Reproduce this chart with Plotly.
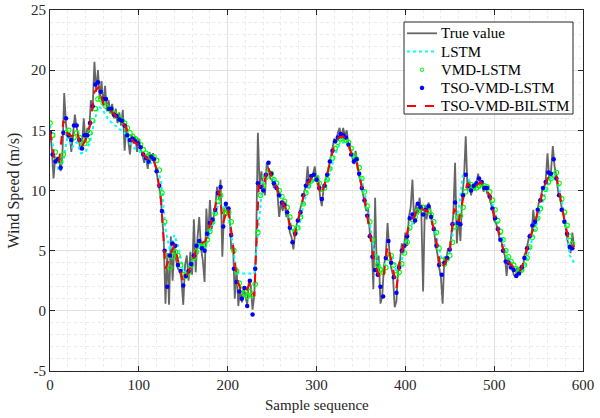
import plotly.graph_objects as go

# True wind speed, one value every 2 samples (sample 0, 2, 4, ...)
true_value = [
    15.0, 13.5, 11.0, 12.8, 12.4, 12.8, 11.6, 13.0, 18.1, 15.5,
    14.3, 14.8, 13.2, 15.0, 16.3, 15.2, 14.6, 13.4, 13.7, 16.0,
    14.0, 15.2, 14.8, 17.5, 16.8, 20.7, 18.2, 20.0, 17.6, 19.1,
    17.0, 18.7, 16.6, 17.5, 16.4, 17.2, 16.0, 16.8, 15.6, 16.5,
    15.4, 16.7, 13.3, 15.4, 14.1, 13.0, 14.6, 13.9, 14.5, 13.2,
    14.3, 13.4, 13.0, 12.3, 12.9, 11.8, 13.2, 12.5, 13.1, 12.3,
    11.7, 10.8, 9.8, 8.1, 6.0, 0.6, 4.8, 0.5, 6.2, 2.5,
    5.4, 4.2, 3.5, 3.4, 2.6, 0.5, 3.8, 4.6, 2.5, 4.9,
    3.0, 7.6, 3.2, 6.0, 7.8, 5.2, 4.2, 2.4, 8.5, 6.0,
    9.2, 6.8, 7.6, 8.6, 10.3, 9.3, 10.9, 4.5, 8.4, 9.0,
    8.0, 8.4, 5.1, 5.6, 1.0, 3.6, 0.4, 1.8, 0.7, 2.0,
    1.2, 0.5, 2.6, 2.1, 0.1, 1.3, 5.5, 14.8, 10.4, 11.6,
    10.2, 9.6, 12.3, 11.8, 11.0, 10.9, 10.2, 10.5, 9.8, 7.8,
    9.0, 8.3, 9.1, 7.8, 8.0, 6.5, 6.1, 5.1, 6.5, 7.3,
    7.6, 8.6, 9.0, 9.9, 10.3, 12.0, 10.2, 11.0, 11.3, 12.0,
    10.8, 11.2, 9.5, 8.7, 10.2, 10.9, 11.4, 12.0, 12.8, 13.5,
    14.3, 14.0, 14.8, 15.2, 14.3, 15.2, 14.5, 15.0, 13.8, 13.5,
    12.8, 12.2, 13.3, 12.0, 11.2, 10.6, 9.8, 9.3, 8.3, 8.5,
    6.5, 6.0, 1.8, 9.4, 3.0, 4.6, 0.6, 1.2, 3.8, 4.6,
    7.3, 5.0, 3.6, 3.0, 0.3, 0.8, 3.8, 4.2, 5.6, 4.8,
    6.5, 5.4, 7.8, 8.6, 10.9, 7.2, 8.8, 8.0, 9.4, 8.2,
    1.6, 8.8, 7.6, 9.0, 8.6, 7.2, 7.0, 5.5, 4.8, 3.6,
    2.8, 0.6, 4.5, 4.2, 5.2, 5.0, 6.8, 8.0, 12.3, 5.6,
    8.0, 5.8, 9.5, 11.0, 14.5, 10.0, 10.8, 9.6, 10.4, 10.0,
    10.7, 11.4, 10.4, 10.8, 9.9, 10.4, 9.8, 9.5, 9.0, 8.5,
    7.5, 7.3, 6.8, 6.0, 5.8, 5.0, 4.6, 2.9, 4.4, 3.8,
    3.7, 3.0, 2.8, 3.6, 3.0, 3.8, 3.3, 4.6, 5.0, 5.6,
    6.4, 6.2, 8.4, 7.0, 8.2, 8.9, 9.3, 10.0, 10.2, 10.8,
    13.1, 11.0, 11.6, 13.7, 12.0, 11.2, 9.9, 9.4, 8.6, 7.9,
    7.2, 6.0, 5.5, 4.8, 6.5, 5.3,
]

# Line predictions, one value every 5 samples (sample 0, 5, 10, ...)
lstm = [
    15.4, 13.0, 11.6, 12.5, 14.6, 13.6, 14.0, 13.1, 13.2, 14.0,
    15.8, 17.0, 16.6, 16.0, 15.6, 15.3, 15.0, 14.7, 14.0, 13.5,
    13.3, 12.9, 12.2, 12.3, 12.0, 10.8, 6.8, 5.0, 6.3, 5.2,
    3.2, 3.3, 4.1, 5.0, 5.7, 5.2, 6.5, 7.8, 9.0, 8.6,
    8.6, 6.0, 3.1, 3.1, 3.1, 3.1, 3.1, 7.2, 11.3, 11.6,
    11.2, 10.5, 9.4, 8.6, 7.4, 6.4, 6.9, 8.7, 10.1, 10.7,
    10.9, 10.0, 10.1, 11.4, 12.8, 13.7, 14.0, 13.8, 13.1, 12.4,
    11.2, 9.5, 7.3, 5.0, 3.8, 3.3, 4.6, 4.7, 3.2, 3.9,
    5.5, 6.8, 7.6, 8.2, 8.5, 8.2, 7.6, 6.3, 4.5, 4.0,
    4.8, 7.2, 8.4, 11.4, 11.2, 10.2, 10.0, 10.3, 10.1, 9.6,
    8.4, 7.0, 5.8, 4.5, 3.9, 3.3, 3.2, 3.8, 5.2, 6.4,
    7.8, 9.2, 10.4, 11.2, 11.3, 9.6, 7.6, 4.6, 4.0,
]

tso_vmd_bilstm = [
    14.9, 12.6, 12.2, 15.8, 14.7, 14.5, 15.0, 13.5, 14.2, 15.4,
    18.2, 18.6, 17.2, 16.8, 16.5, 16.1, 15.9, 15.3, 14.4, 14.0,
    13.8, 13.0, 12.6, 12.8, 11.8, 9.2, 3.5, 4.5, 5.5, 3.9,
    2.4, 3.1, 4.0, 5.2, 5.6, 5.8, 7.0, 8.3, 10.0, 7.3,
    8.6, 6.2, 2.8, 1.7, 1.5, 2.3, 1.2, 10.4, 10.2, 12.0,
    11.1, 10.3, 9.2, 8.6, 7.2, 6.2, 7.8, 9.4, 10.6, 11.1,
    11.0, 9.6, 10.7, 12.3, 13.8, 14.4, 14.5, 14.0, 12.9, 12.4,
    10.7, 8.9, 6.5, 4.0, 3.0, 2.6, 5.4, 4.0, 1.9, 4.7,
    5.8, 7.5, 7.8, 8.7, 8.4, 8.3, 7.4, 5.8, 3.4, 4.0,
    5.0, 8.5, 7.4, 9.3, 10.6, 10.1, 10.4, 10.7, 10.2, 9.6,
    8.0, 6.6, 5.2, 4.1, 3.8, 3.2, 3.4, 4.5, 6.0, 7.0,
    8.6, 10.0, 11.0, 11.4, 11.2, 9.1, 7.2, 5.6, 5.3,
]

# Marker predictions, one value every 3 samples (sample 0, 3, 6, ...)
vmd_lstm = [
    15.6, 14.6, 13.2, 12.6, 12.4, 13.0, 14.8, 15.0, 14.4, 14.4,
    14.8, 14.4, 14.0, 13.9, 14.2, 14.8, 15.8, 16.8, 17.6, 17.6,
    17.3, 17.0, 16.8, 16.6, 16.4, 16.2, 16.0, 15.8, 15.6, 15.2,
    14.8, 14.5, 14.3, 14.1, 13.8, 13.4, 13.1, 12.9, 12.8, 12.8,
    12.5, 11.7, 9.8, 7.4, 4.6, 3.6, 4.5, 4.9, 4.6, 3.8,
    3.0, 2.9, 3.2, 3.8, 4.4, 4.9, 5.4, 5.6, 5.5, 5.9,
    6.6, 7.4, 8.1, 9.1, 9.6, 8.3, 8.1, 8.2, 7.4, 5.0,
    3.3, 2.3, 1.8, 1.4, 1.2, 1.6, 1.3, 2.2, 6.5, 9.6,
    10.4, 11.1, 11.5, 11.4, 10.9, 10.6, 10.0, 9.5, 9.1, 8.6,
    7.8, 6.9, 6.5, 6.9, 7.8, 8.9, 9.8, 10.4, 10.8, 11.0,
    11.1, 10.6, 10.1, 10.2, 10.9, 11.8, 12.7, 13.5, 14.0, 14.3,
    14.3, 14.2, 14.0, 13.5, 12.9, 12.6, 11.9, 11.0, 9.9, 8.7,
    7.4, 5.9, 4.5, 3.8, 3.4, 3.2, 3.6, 4.4, 4.6, 3.8,
    3.0, 3.2, 3.9, 4.8, 5.7, 6.9, 7.6, 7.8, 8.3, 8.5,
    8.6, 8.4, 8.3, 8.0, 7.4, 6.5, 5.2, 4.2, 3.9, 4.3,
    4.6, 5.7, 7.0, 7.8, 7.9, 8.6, 9.9, 10.4, 10.5, 10.3,
    10.2, 10.4, 10.5, 10.4, 10.3, 9.9, 9.2, 8.4, 7.5, 6.6,
    5.9, 5.0, 4.5, 4.1, 3.8, 3.5, 3.3, 3.4, 3.8, 4.4,
    5.3, 6.1, 6.8, 7.7, 8.5, 9.4, 10.1, 10.7, 11.0, 11.3,
    11.5, 10.6, 9.3, 8.2, 7.1, 6.2, 5.6,
]

tso_vmd_lstm = [
    14.8, 13.0, 12.4, 12.6, 11.9, 14.8, 16.0, 14.6, 14.2, 15.4,
    15.4, 14.2, 13.5, 14.6, 14.6, 15.6, 17.0, 18.8, 19.0, 18.2,
    17.6, 17.6, 16.8, 16.8, 16.3, 16.2, 15.9, 15.8, 15.4, 14.6,
    14.2, 14.3, 14.1, 13.9, 13.6, 13.0, 12.7, 12.4, 12.8, 12.6,
    11.6, 10.4, 8.3, 5.0, 2.0, 4.6, 5.6, 5.4, 3.8, 3.3,
    2.1, 2.9, 3.3, 3.9, 4.6, 5.4, 5.8, 5.2, 5.0, 6.4,
    7.3, 7.6, 8.4, 9.8, 10.3, 7.0, 8.9, 8.5, 6.3, 3.5,
    2.4, 1.6, 1.0, 1.9, 0.4, 2.5, -0.3, 3.5, 10.6, 10.3,
    10.0, 11.3, 12.3, 11.4, 10.6, 10.2, 9.6, 9.0, 8.8, 8.2,
    6.9, 5.7, 6.4, 7.5, 8.2, 9.6, 10.4, 10.8, 11.2, 11.3,
    10.9, 10.2, 9.3, 10.4, 11.3, 12.4, 13.3, 14.1, 14.4, 14.7,
    14.6, 14.4, 13.8, 13.0, 12.4, 12.6, 11.4, 10.2, 9.2, 7.9,
    6.2, 4.5, 3.4, 3.0, 2.0, 1.2, 4.4, 5.8, 4.0, 2.8,
    1.5, 3.6, 5.0, 5.4, 6.2, 7.7, 8.0, 7.5, 8.9, 8.6,
    8.0, 8.4, 8.7, 7.8, 6.8, 5.4, 3.8, 3.0, 4.0, 4.4,
    5.1, 7.2, 9.0, 7.3, 7.2, 9.6, 11.3, 10.4, 10.0, 10.4,
    10.6, 11.0, 10.7, 10.2, 10.2, 9.5, 8.5, 7.7, 6.8, 5.9,
    5.0, 4.1, 4.0, 3.6, 3.4, 2.9, 3.1, 3.6, 4.4, 5.2,
    6.2, 7.1, 7.4, 8.4, 9.2, 10.2, 10.7, 11.5, 11.4, 12.6,
    11.0, 9.6, 8.4, 7.4, 6.4, 5.3, 5.2,
]

x_ticks = [0, 100, 200, 300, 400, 500, 600]
y_ticks = [-5, 0, 5, 10, 15, 20, 25]
y_tick_text = ["-5", "0", "5", "10", "15", "20", "25"]
legend_names = ["True value", "LSTM", "VMD-LSTM", "TSO-VMD-LSTM", "TSO-VMD-BILSTM"]

x_true = [2 * i for i in range(len(true_value))]
x_line = [5 * i for i in range(len(lstm))]
x_mark = [3 * i for i in range(len(vmd_lstm))]

FONT = "Liberation Serif"
C_TRUE, C_LSTM, C_VMD, C_TSO, C_BI = "#666666", "#00FFFF", "#00FF00", "#0000FF", "#FF0000"

fig = go.Figure()
fig.add_trace(go.Scatter(x=x_true, y=true_value, mode="lines", name=legend_names[0],
                         line=dict(color=C_TRUE, width=1.8)))
fig.add_trace(go.Scatter(x=x_line, y=lstm, mode="lines", name=legend_names[1],
                         line=dict(color=C_LSTM, width=2, dash="dot")))
fig.add_trace(go.Scatter(x=x_mark, y=vmd_lstm, mode="markers", name=legend_names[2],
                         marker=dict(symbol="circle-open", color=C_VMD, size=4.5,
                                     line=dict(width=1.1, color=C_VMD))))
fig.add_trace(go.Scatter(x=x_mark, y=tso_vmd_lstm, mode="markers", name=legend_names[3],
                         marker=dict(symbol="circle", color=C_TSO, size=4.5)))
fig.add_trace(go.Scatter(x=x_line, y=tso_vmd_bilstm, mode="lines", name=legend_names[4],
                         line=dict(color=C_BI, width=2, dash="dash")))

# ---- layout geometry (pixels) ----
W, H = 600, 418
ML, MR, MT, MB = 50, 17, 10, 47
PW, PH = W - ML - MR, H - MT - MB


def px_x(px):
    return (px - ML) / PW


def px_y(py):
    return (H - MB - py) / PH


axis_common = dict(
    showline=True, linecolor="#262626", linewidth=1, mirror="ticks",
    ticks="inside", ticklen=5, tickcolor="#262626",
    showgrid=True, gridcolor="#e2e2e2", gridwidth=1, zeroline=False,
    automargin=False,
    tickfont=dict(family=FONT, size=15, color="#262626"),
)

# ---- hand-built legend box (to match the compact row spacing) ----
shapes = [dict(type="rect", xref="paper", yref="paper", layer="above",
               x0=px_x(404), x1=px_x(573), y0=px_y(114), y1=px_y(22),
               line=dict(color="#262626", width=1), fillcolor="white")]
annotations = []
row_y = [33.3, 51.5, 69.7, 87.9, 106.1]
styles = [("line", C_TRUE, 1.8, "solid"), ("line", C_LSTM, 2, "dot"),
          ("open", C_VMD, 1, None), ("dot", C_TSO, 1, None), ("line", C_BI, 2, "dash")]
for name, ry, (kind, col, wd, dash) in zip(legend_names, row_y, styles):
    if kind == "line":
        shapes.append(dict(type="line", xref="paper", yref="paper", layer="above",
                           x0=px_x(407), x1=px_x(437), y0=px_y(ry), y1=px_y(ry),
                           line=dict(color=col, width=wd, dash=dash)))
    else:
        r = 1.8
        shapes.append(dict(type="circle", xref="paper", yref="paper", layer="above",
                           x0=px_x(422 - r), x1=px_x(422 + r),
                           y0=px_y(ry + r), y1=px_y(ry - r),
                           line=dict(color=col, width=1),
                           fillcolor=col if kind == "dot" else "rgba(0,0,0,0)"))
    annotations.append(dict(text=name, xref="paper", yref="paper",
                            x=px_x(439), y=px_y(ry), xanchor="left", yanchor="middle",
                            showarrow=False, font=dict(family=FONT, size=15, color="#000000")))

# axis titles
annotations.append(dict(text="Sample sequence", xref="paper", yref="paper",
                        x=0.5, y=px_y(405), xanchor="center", yanchor="middle",
                        showarrow=False, font=dict(family=FONT, size=15, color="#262626")))
annotations.append(dict(text="Wind Speed (m/s)", xref="paper", yref="paper",
                        x=px_x(13), y=0.5, xanchor="center", yanchor="middle", textangle=-90,
                        showarrow=False, font=dict(family=FONT, size=16, color="#262626")))

fig.update_layout(
    width=W, height=H,
    margin=dict(l=ML, r=MR, t=MT, b=MB),
    paper_bgcolor="white", plot_bgcolor="white",
    font=dict(family=FONT, size=15, color="#262626"),
    showlegend=False,
    shapes=shapes, annotations=annotations,
    xaxis=dict(range=[0, 600], tickvals=x_ticks,
               minor=dict(dtick=20, showgrid=True, gridcolor="#ebebeb", griddash="dot", ticks=""),
               **axis_common),
    yaxis=dict(range=[-5, 25], tickvals=y_ticks, ticktext=y_tick_text,
               minor=dict(dtick=1, showgrid=True, gridcolor="#ebebeb", griddash="dot", ticks=""),
               **axis_common),
)

fig.write_html("out.html", config={"displayModeBar": False},
               post_script="document.body.style.margin='0px';document.body.style.overflow='hidden';")
